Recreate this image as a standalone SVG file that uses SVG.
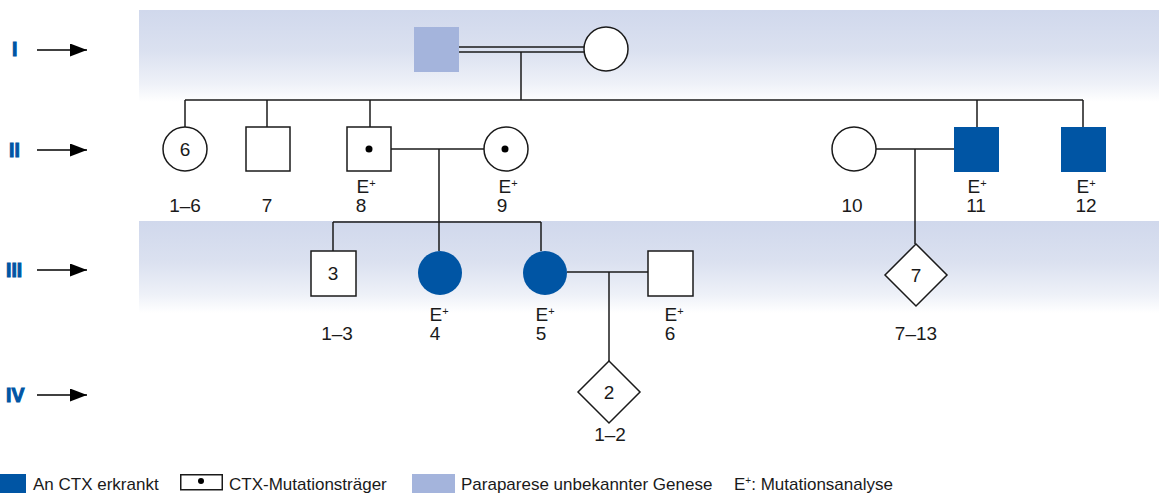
<svg xmlns="http://www.w3.org/2000/svg" width="1159" height="493" viewBox="0 0 1159 493">
  <defs>
    <linearGradient id="band" x1="0" y1="0" x2="0" y2="1">
      <stop offset="0" stop-color="#d0d8ec"/>
      <stop offset="0.45" stop-color="#dbe1f0"/>
      <stop offset="0.8" stop-color="#eef1f8"/>
      <stop offset="1" stop-color="#ffffff"/>
    </linearGradient>
    <marker id="arrow" viewBox="0 0 17 13" refX="17" refY="6.5" markerWidth="17" markerHeight="13" markerUnits="userSpaceOnUse" orient="auto">
      <path d="M0,0 L17,6.5 L0,13 Z" fill="#000"/>
    </marker>
    <style>
      .ln { stroke: #1a1a1a; stroke-width: 1.5; fill: none; }
      .sym { stroke: #1a1a1a; stroke-width: 1.5; fill: #fff; }
      .aff { fill: #0055a4; }
      .para { fill: #a4b4dc; }
      .dot { fill: #000; }
      .t { font-family: "Liberation Sans", Arial, sans-serif; font-size: 19px; fill: #1a1a1a; text-anchor: middle; }
      .sup { font-size: 11px; }
      .gen { font-family: "Liberation Sans", Arial, sans-serif; font-size: 19.5px; font-weight: bold; fill: #0055a4; stroke: #0055a4; stroke-width: 1; }
      .leg { font-family: "Liberation Sans", Arial, sans-serif; font-size: 17px; fill: #1a1a1a; }
      .garrow { stroke: #000; stroke-width: 1.5; marker-end: url(#arrow); }
    </style>
  </defs>

  <!-- generation bands -->
  <rect x="139" y="10" width="1020" height="92" fill="url(#band)"/>
  <rect x="139" y="221" width="1020" height="92" fill="url(#band)"/>

  <!-- generation labels -->
  <g id="generations">
    <text class="gen" x="12" y="56">I</text>
    <text class="gen" x="9" y="157">II</text>
    <text class="gen" x="6" y="277">III</text>
    <text class="gen" x="6" y="402">IV</text>
    <line class="garrow" x1="37" y1="50" x2="87" y2="50"/>
    <line class="garrow" x1="37" y1="150" x2="87" y2="150"/>
    <line class="garrow" x1="37" y1="270" x2="87" y2="270"/>
    <line class="garrow" x1="37" y1="395" x2="87" y2="395"/>
  </g>

  <!-- connectors -->
  <g id="connectors">
    <!-- consanguineous marriage I -->
    <line class="ln" x1="459" y1="47" x2="584" y2="47"/>
    <line class="ln" x1="459" y1="52" x2="584" y2="52"/>
    <line class="ln" x1="521" y1="52" x2="521" y2="100"/>
    <!-- sibship II -->
    <line class="ln" x1="185" y1="100" x2="1083" y2="100"/>
    <line class="ln" x1="185" y1="100" x2="185" y2="127"/>
    <line class="ln" x1="267" y1="100" x2="267" y2="127"/>
    <line class="ln" x1="370" y1="100" x2="370" y2="127"/>
    <line class="ln" x1="977" y1="100" x2="977" y2="127"/>
    <line class="ln" x1="1083" y1="100" x2="1083" y2="127"/>
    <!-- marriage II-8 x II-9 -->
    <line class="ln" x1="391" y1="149" x2="484" y2="149"/>
    <line class="ln" x1="439" y1="149" x2="439" y2="222"/>
    <!-- sibship III left -->
    <line class="ln" x1="333" y1="222" x2="541" y2="222"/>
    <line class="ln" x1="333" y1="222" x2="333" y2="251"/>
    <line class="ln" x1="439" y1="222" x2="439" y2="251"/>
    <line class="ln" x1="541" y1="222" x2="541" y2="251"/>
    <!-- marriage II-10 x II-11 -->
    <line class="ln" x1="876" y1="149" x2="954" y2="149"/>
    <line class="ln" x1="915" y1="149" x2="915" y2="244"/>
    <!-- marriage III-5 x III-6 -->
    <line class="ln" x1="567" y1="272" x2="648" y2="272"/>
    <line class="ln" x1="609" y1="272" x2="609" y2="361"/>
  </g>

  <!-- generation I -->
  <g id="I-1"><rect class="para" x="414" y="27" width="45" height="45"/></g>
  <g id="I-2"><circle class="sym" cx="606" cy="49" r="22"/></g>

  <!-- generation II -->
  <g id="II-1-6">
    <circle class="sym" cx="185" cy="149" r="22"/>
    <text class="t" x="185" y="156">6</text>
    <text class="t" x="185" y="212">1–6</text>
  </g>
  <g id="II-7">
    <rect class="sym" x="246" y="127" width="44" height="44"/>
    <text class="t" x="267" y="212">7</text>
  </g>
  <g id="II-8">
    <rect class="sym" x="347" y="127" width="44" height="44"/>
    <circle class="dot" cx="369" cy="149" r="3.5"/>
    <text class="t" x="366" y="193">E<tspan class="sup" dy="-6">+</tspan></text>
    <text class="t" x="361" y="212">8</text>
  </g>
  <g id="II-9">
    <circle class="sym" cx="506" cy="149" r="22"/>
    <circle class="dot" cx="505" cy="149" r="3.5"/>
    <text class="t" x="508" y="193">E<tspan class="sup" dy="-6">+</tspan></text>
    <text class="t" x="502" y="212">9</text>
  </g>
  <g id="II-10">
    <circle class="sym" cx="854" cy="149" r="22"/>
    <text class="t" x="852" y="212">10</text>
  </g>
  <g id="II-11">
    <rect class="aff" x="954" y="127" width="45" height="45"/>
    <text class="t" x="977" y="193">E<tspan class="sup" dy="-6">+</tspan></text>
    <text class="t" x="976" y="212">11</text>
  </g>
  <g id="II-12">
    <rect class="aff" x="1061" y="127" width="45" height="45"/>
    <text class="t" x="1086" y="193">E<tspan class="sup" dy="-6">+</tspan></text>
    <text class="t" x="1086" y="212">12</text>
  </g>

  <!-- generation III -->
  <g id="III-1-3">
    <rect class="sym" x="311" y="251" width="45" height="45"/>
    <text class="t" x="333" y="280">3</text>
    <text class="t" x="337" y="340">1–3</text>
  </g>
  <g id="III-4">
    <circle class="aff" cx="440" cy="273" r="22"/>
    <text class="t" x="439" y="321">E<tspan class="sup" dy="-6">+</tspan></text>
    <text class="t" x="435" y="340">4</text>
  </g>
  <g id="III-5">
    <circle class="aff" cx="545" cy="273" r="22"/>
    <text class="t" x="545" y="321">E<tspan class="sup" dy="-6">+</tspan></text>
    <text class="t" x="541" y="340">5</text>
  </g>
  <g id="III-6">
    <rect class="sym" x="648" y="251" width="45" height="45"/>
    <text class="t" x="674" y="321">E<tspan class="sup" dy="-6">+</tspan></text>
    <text class="t" x="670" y="340">6</text>
  </g>
  <g id="III-7-13">
    <polygon class="sym" points="916,244 947,275 916,306 885,275"/>
    <text class="t" x="916" y="282">7</text>
    <text class="t" x="916" y="340">7–13</text>
  </g>

  <!-- generation IV -->
  <g id="IV-1-2">
    <polygon class="sym" points="609,361 640,392 609,423 578,392"/>
    <text class="t" x="609" y="399">2</text>
    <text class="t" x="610" y="441">1–2</text>
  </g>

  <!-- legend -->
  <g id="legend">
    <rect class="aff" x="0" y="474" width="26" height="19"/>
    <text class="leg" x="33" y="490">An CTX erkrankt</text>
    <rect x="180.75" y="474.75" width="41.5" height="15" fill="#fff" stroke="#1a1a1a" stroke-width="1.5"/>
    <circle class="dot" cx="201" cy="481" r="3"/>
    <text class="leg" x="229" y="490">CTX-Mutationsträger</text>
    <rect class="para" x="412" y="474" width="43" height="19"/>
    <text class="leg" x="461" y="490">Paraparese unbekannter Genese</text>
    <text class="leg" x="734" y="490">E<tspan font-size="10" dy="-6">+</tspan><tspan dy="6">: Mutationsanalyse</tspan></text>
  </g>
</svg>
